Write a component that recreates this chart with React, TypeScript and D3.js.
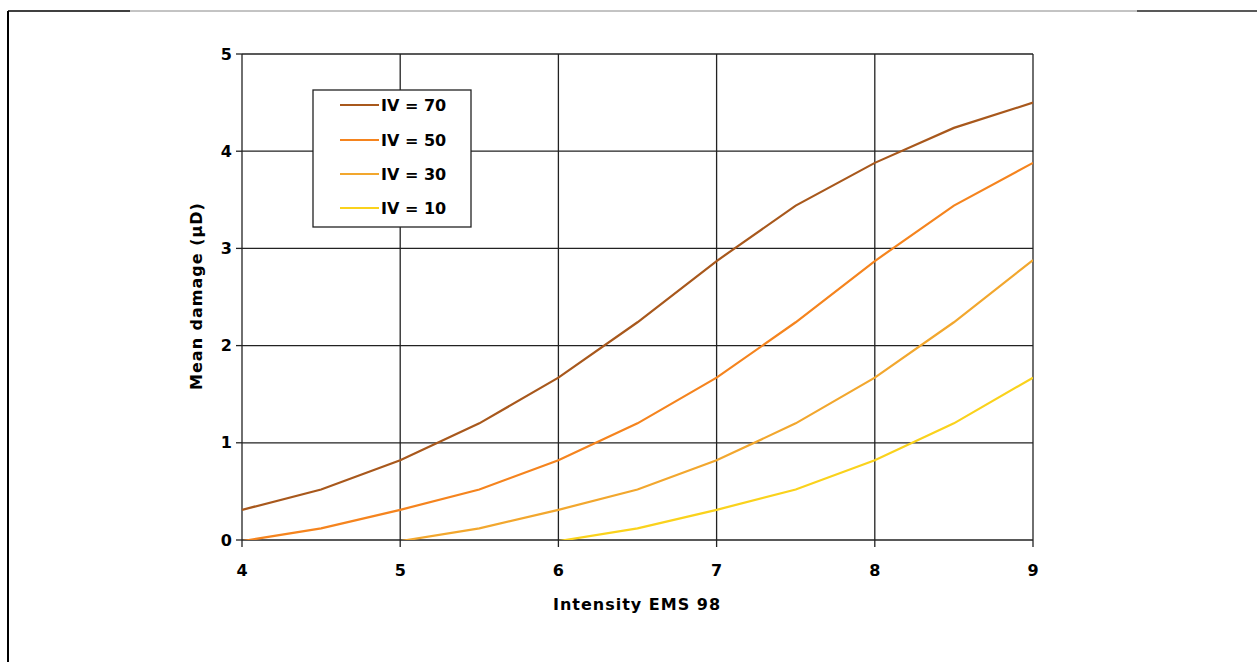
import React from "react";
import * as d3 from "d3";

const intensities = [4, 4.5, 5, 5.5, 6, 6.5, 7, 7.5, 8, 8.5, 9];
const iv70 = [0.31, 0.52, 0.82, 1.2, 1.67, 2.24, 2.87, 3.44, 3.88, 4.24, 4.5];
const iv50 = [-0.012, 0.12, 0.31, 0.52, 0.82, 1.2, 1.67, 2.24, 2.87, 3.44, 3.88];
const iv30 = [null, null, -0.012, 0.12, 0.31, 0.52, 0.82, 1.2, 1.67, 2.24, 2.88];
const iv10 = [null, null, null, null, -0.012, 0.12, 0.31, 0.52, 0.82, 1.2, 1.67];
const seriesNames = ["IV = 70", "IV = 50", "IV = 30", "IV = 10"];
const seriesColors = ["#A8581C", "#F5841E", "#F2A72E", "#FAD21C"];
const xTicks = [4, 5, 6, 7, 8, 9];
const yTicks = [0, 1, 2, 3, 4, 5];

const W = 1257;
const H = 662;
const FONT = "'DejaVu Sans', Verdana, sans-serif";

export default function App() {
  const x = d3.scaleLinear().domain([4, 9]).range([242, 1033]);
  const y = d3.scaleLinear().domain([0, 5]).range([540, 54]);
  const all = [iv70, iv50, iv30, iv10];
  const line = d3
    .line<[number, number | null]>()
    .defined((d) => d[1] !== null)
    .x((d) => x(d[0]))
    .y((d) => y(d[1] as number));

  const legX = 313, legY = 90, legW = 158, legH = 137;
  const legRows = [105, 140, 174, 208];

  return (
    <svg
      width={W}
      height={H}
      style={{ position: "absolute", left: 0, top: 0, background: "#fff" }}
      fontFamily={FONT}
      fontWeight="bold"
    >
      <defs>
        <clipPath id="plotclip">
          <rect x={242} y={54} width={791} height={486} />
        </clipPath>
      </defs>
      {/* page frame */}
      <line x1={8} y1={11} x2={8} y2={H} stroke="#000" strokeWidth={2} />
      <line x1={8} y1={11} x2={130} y2={11} stroke="#000" strokeWidth={1.5} />
      <line x1={130} y1={11} x2={1137} y2={11} stroke="#888" strokeWidth={1} />
      <line x1={1137} y1={11} x2={W} y2={11} stroke="#222" strokeWidth={1.5} />

      {/* grid */}
      {yTicks.map((t) => (
        <line key={"gy" + t} x1={x(4)} x2={x(9)} y1={y(t)} y2={y(t)} stroke="#222" strokeWidth={1.3} />
      ))}
      {xTicks.map((t) => (
        <line key={"gx" + t} x1={x(t)} x2={x(t)} y1={y(5)} y2={y(0) + 7} stroke="#222" strokeWidth={1.3} />
      ))}
      {yTicks.map((t) => (
        <line key={"ty" + t} x1={x(4) - 6} x2={x(4)} y1={y(t)} y2={y(t)} stroke="#222" strokeWidth={1.3} />
      ))}

      {/* tick labels */}
      {yTicks.map((t) => (
        <text key={"ly" + t} x={x(4) - 10} y={y(t)} dy="0.35em" textAnchor="end" fontSize={16} fill="#000">
          {t}
        </text>
      ))}
      {xTicks.map((t) => (
        <text key={"lx" + t} x={x(t)} y={570} dy="0.35em" textAnchor="middle" fontSize={16} fill="#000">
          {t}
        </text>
      ))}

      {/* axis titles */}
      <text x={637} y={604} dy="0.35em" textAnchor="middle" fontSize={16} letterSpacing={1} fill="#000">
        Intensity EMS 98
      </text>
      <text
        transform={`translate(196,296) rotate(-90)`}
        dy="0.35em"
        textAnchor="middle"
        fontSize={16}
        letterSpacing={1}
        fill="#000"
      >
        Mean damage (μD)
      </text>

      {/* lines */}
      <g clipPath="url(#plotclip)">
        {all.map((vals, i) => (
          <path
            key={"s" + i}
            d={line(intensities.map((xi, j) => [xi, vals[j]]) as [number, number | null][]) || ""}
            fill="none"
            stroke={seriesColors[i]}
            strokeWidth={2.2}
          />
        ))}
      </g>

      {/* legend */}
      <rect x={legX} y={legY} width={legW} height={legH} fill="#fff" stroke="#222" strokeWidth={1.3} />
      {seriesNames.map((n, i) => (
        <g key={"lg" + i}>
          <line x1={340} x2={379} y1={legRows[i]} y2={legRows[i]} stroke={seriesColors[i]} strokeWidth={2.2} />
          <text x={381} y={legRows[i]} dy="0.35em" fontSize={16} fill="#000">
            {n}
          </text>
        </g>
      ))}
    </svg>
  );
}
